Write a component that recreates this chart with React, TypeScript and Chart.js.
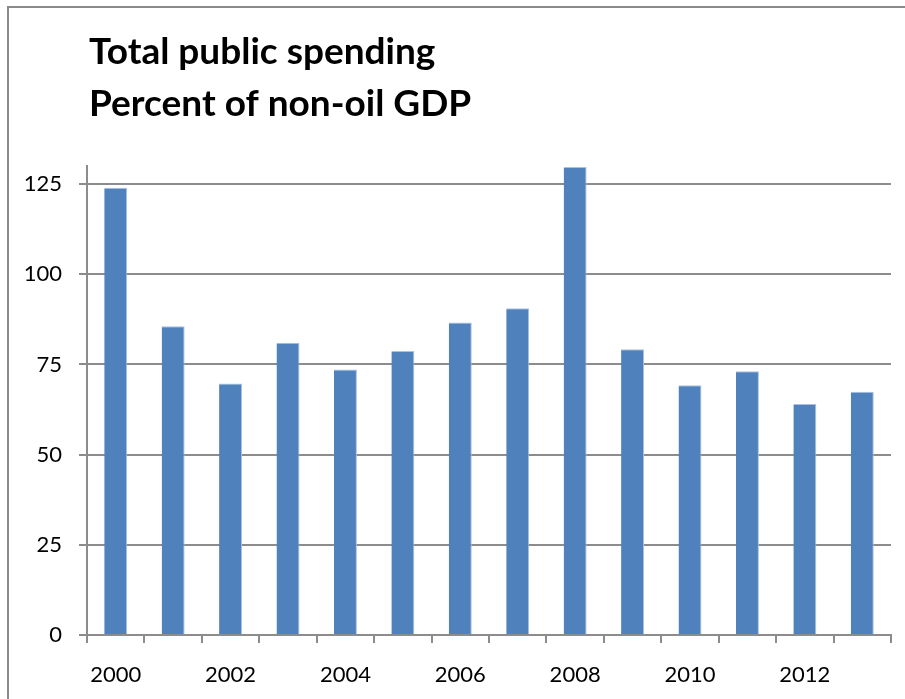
import React, { useEffect, useRef } from 'react';
import { Chart, registerables } from 'chart.js';

Chart.register(...registerables);

const years = ['2000', '2001', '2002', '2003', '2004', '2005', '2006', '2007', '2008', '2009', '2010', '2011', '2012', '2013'];
const spending = [124, 85.6, 69.7, 81, 73.6, 78.7, 86.6, 90.6, 129.7, 79.2, 69.2, 73.1, 64, 67.4];
const yTickValues = [0, 25, 50, 75, 100, 125];
const titleLines = ['Total public spending', 'Percent of non-oil GDP'];

const FONT = 'Lato, "Open Sans", sans-serif';
const GRID = '#8c8c8c';

const titlePlugin = {
  id: 'leftTitle',
  afterDraw(chart: any) {
    const ctx = chart.ctx;
    ctx.save();
    ctx.fillStyle = '#000';
    ctx.font = `bold 37px ${FONT}`;
    ctx.textAlign = 'left';
    ctx.textBaseline = 'alphabetic';
    titleLines.forEach((line, i) => {
      ctx.fillText(line, chart.chartArea.left + 2, 64 + i * 52);
    });
    ctx.restore();
  },
};

export default function App() {
  const ref = useRef<HTMLCanvasElement>(null);
  useEffect(() => {
    if (!ref.current) return;
    const chart = new Chart(ref.current, {
      type: 'bar',
      data: {
        labels: years,
        datasets: [
          {
            data: spending,
            backgroundColor: '#4F81BD',
            borderColor: '#A9C1DF',
            borderWidth: { top: 1, right: 1, left: 0, bottom: 0 } as any,
            borderSkipped: 'bottom',
            barPercentage: 0.4,
            categoryPercentage: 1.0,
          },
        ],
      },
      plugins: [titlePlugin],
      options: {
        responsive: false,
        animation: false,
        events: [],
        layout: { padding: { top: 166, right: 14, left: 0, bottom: 0 } },
        plugins: {
          legend: { display: false },
          tooltip: { enabled: false },
          title: { display: false },
        },
        scales: {
          x: {
            offset: true,
            afterFit: (scale: any) => {
              scale.height = 64;
            },
            border: { display: true, color: GRID, width: 2 },
            grid: {
              offset: true,
              drawOnChartArea: false,
              drawTicks: true,
              tickLength: 8,
              color: GRID,
              lineWidth: 2,
            },
            ticks: {
              autoSkip: false,
              maxRotation: 0,
              minRotation: 0,
              padding: 19,
              color: '#000',
              font: { family: FONT, size: 22 },
              callback: (_v: any, i: number) => (i % 2 === 0 ? years[i] : ''),
            },
          },
          y: {
            min: 0,
            max: 130,
            afterFit: (scale: any) => {
              scale.width = 87;
            },
            afterBuildTicks: (scale: any) => {
              scale.ticks = yTickValues.map((v) => ({ value: v }));
            },
            border: { display: true, color: GRID, width: 2 },
            grid: {
              color: GRID,
              lineWidth: 2,
              drawTicks: true,
              tickLength: 8,
            },
            ticks: {
              padding: 17,
              color: '#000',
              font: { family: FONT, size: 22 },
            },
          },
        },
      },
    });
    return () => chart.destroy();
  }, []);

  return (
    <div style={{ position: 'absolute', left: 0, top: 0, width: 905, height: 699, overflow: 'hidden', background: '#fff' }}>
      <div
        style={{
          position: 'absolute',
          left: 7,
          top: 6,
          width: 1200,
          height: 1200,
          border: '2px solid #8a8a8a',
          boxSizing: 'border-box',
        }}
      />
      <canvas ref={ref} width={905} height={699} style={{ position: 'absolute', left: 0, top: 0, display: 'block' }} />
    </div>
  );
}
